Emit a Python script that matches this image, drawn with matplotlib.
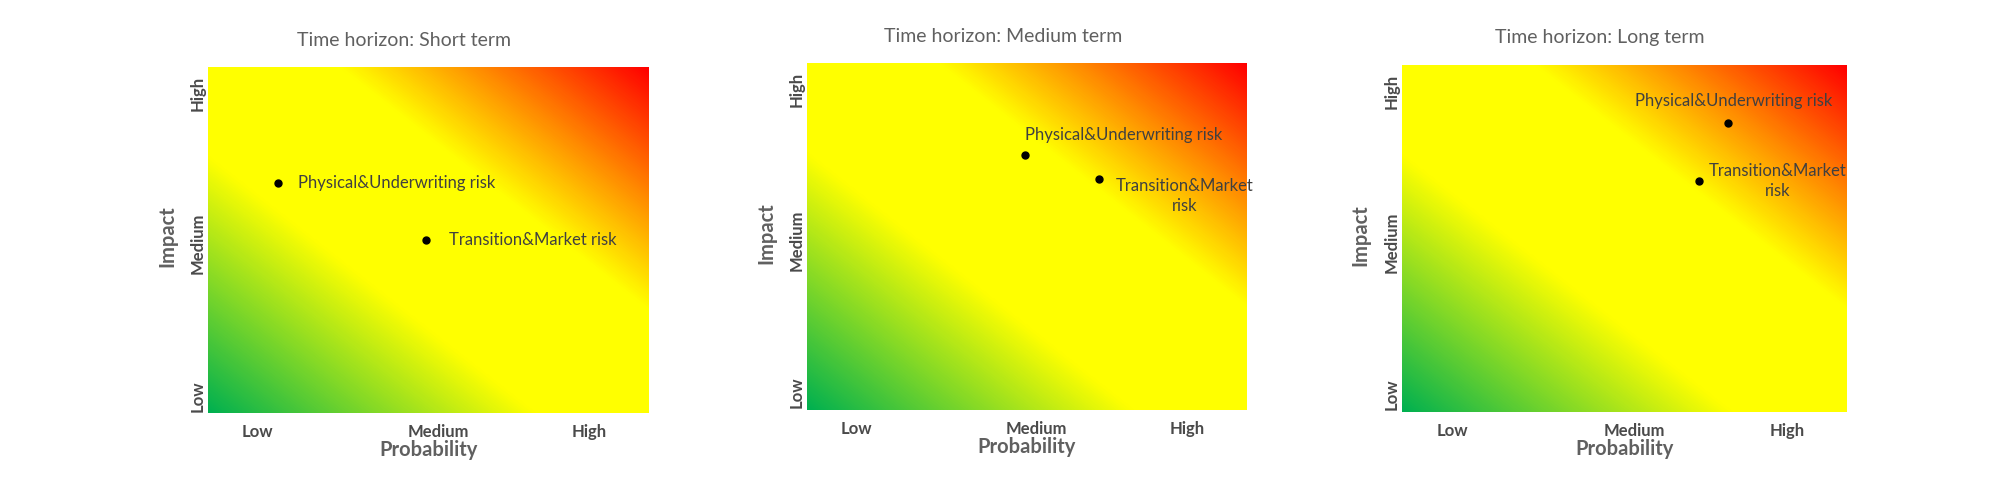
import matplotlib.pyplot as plt
import numpy as np
from matplotlib.colors import LinearSegmentedColormap

plt.rcParams['font.family'] = ['Lato', 'DejaVu Sans']

# data
titles = ["Time horizon: Short term", "Time horizon: Medium term", "Time horizon: Long term"]
risks = ["Physical&Underwriting risk", "Transition&Market\nrisk"]
risks_short = ["Physical&Underwriting risk", "Transition&Market risk"]
levels = ["Low", "Medium", "High"]
x_level_pos = [0.113, 0.522, 0.865]
y_level_pos = [0.05, 0.49, 0.923]
# probability / impact per horizon, 0..1 scale
prob = [[0.159, 0.494], [0.495, 0.663], [0.733, 0.667]]
impact = [[0.665, 0.50], [0.734, 0.666], [0.832, 0.666]]

# label layout per panel: (dx pt, dy pt, ha)
label_style = [
	[(14, 0, "left"), (17, 0, "left")],
	[(0, 15, "left"), (62, -12, "center")],
	[(4, 16, "center"), (57, 0, "center")],
]

cmap = LinearSegmentedColormap.from_list("risk", [
	(0.0, "#00b050"), (0.37, "#ffff00"), (0.65, "#ffff00"), (1.0, "#ff0000")])

fig = plt.figure(figsize=(20, 4.92), dpi=100)
boxes = [[0.104, 0.1606, 0.2205, 0.703], [0.4035, 0.1667, 0.22, 0.705], [0.701, 0.163, 0.2225, 0.705]]

g = np.linspace(0, 1, 400)
X, Y = np.meshgrid(g, g)
T = (X + Y) / 2

for i in range(3):
	ax = fig.add_axes(boxes[i])
	ax.imshow(T, cmap=cmap, origin="lower", extent=[0, 1, 0, 1], aspect="auto", vmin=0, vmax=1)
	ax.set_xlim(0, 1)
	ax.set_ylim(0, 1)
	for s in ax.spines.values():
		s.set_visible(False)
	ax.set_xticks(x_level_pos)
	ax.set_xticklabels(levels, fontsize=12, fontweight="bold", color="#4a4a4a")
	ax.set_yticks(y_level_pos)
	ax.set_yticklabels(levels, fontsize=12, fontweight="bold", color="#4a4a4a", rotation=90, va="center")
	ax.tick_params(axis="x", length=0, pad=8)
	ax.tick_params(axis="y", length=0, pad=1.5)
	ax.text(0.445, 1.078, titles[i], transform=ax.transAxes, ha="center", va="center",
		fontsize=14, color="#606060")
	ax.text(0.5, -0.107, "Probability", transform=ax.transAxes, ha="center", va="center",
		fontsize=14.5, fontweight="bold", color="#606060")
	ax.text(-0.093, 0.51, "Impact", transform=ax.transAxes, ha="center", va="center",
		fontsize=14.5, fontweight="bold", color="#606060", rotation=90)
	ax.plot(prob[i], impact[i], "o", color="black", markersize=5)
	for j in range(2):
		dx, dy, ha = label_style[i][j]
		txt = risks_short[j] if i == 0 else risks[j]
		ax.annotate(txt, (prob[i][j], impact[i][j]), xytext=(dx, dy), textcoords="offset points",
			ha=ha, va="center", fontsize=12, color="#404040", linespacing=1.3,
			multialignment="center")

fig.savefig("out.png", dpi=100)
